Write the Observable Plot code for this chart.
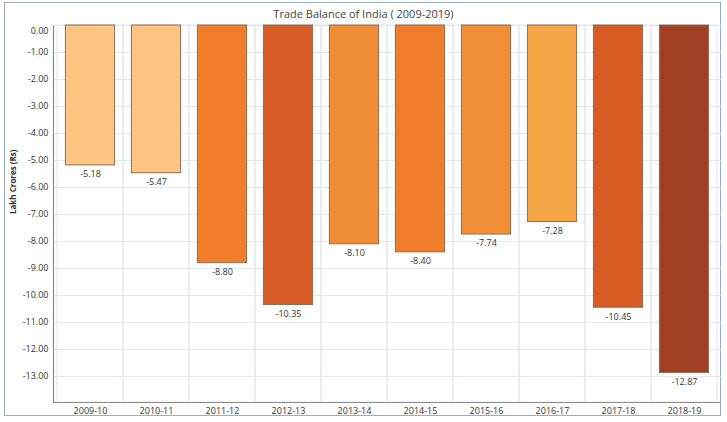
<!DOCTYPE html>
<html>
<head>
<meta charset="utf-8">
<script src="https://cdn.jsdelivr.net/npm/d3@7"></script>
<script src="https://cdn.jsdelivr.net/npm/@observablehq/plot@0.6"></script>
<style>
  html, body { margin: 0; padding: 0; background: #fff; }
  #wrap { position: relative; width: 727px; height: 422px; font-family: "Open Sans", sans-serif; }
  #frame { position: absolute; left: 4px; top: 2px; width: 715px; height: 412px; border: 1.5px solid #9aaec2; box-sizing: content-box; }
  #title { position: absolute; left: 0; top: 6px; width: 727px; text-align: center; font-size: 11px; color: #444; }
  #chart { position: absolute; left: 0; top: 0; }
</style>
</head>
<body>
<div id="wrap">
  <div id="frame"></div>
  <div id="title">Trade Balance of India ( 2009-2019)</div>
  <div id="chart"></div>
</div>
<script>
const years = ["2009-10","2010-11","2011-12","2012-13","2013-14","2014-15","2015-16","2016-17","2017-18","2018-19"];
const values = [-5.18,-5.47,-8.80,-10.35,-8.10,-8.40,-7.74,-7.28,-10.45,-12.87];
const colors = ["#fdc482","#fdc482","#f07d2a","#d65b24","#f08d35","#ef7d29","#f18f36","#f4a545","#d75b22","#a03f22"];
const yTicks = [-1,-2,-3,-4,-5,-6,-7,-8,-9,-10,-11,-12,-13];
const yMin = -13.96;

const data = years.map((y, i) => ({year: y, value: values[i], color: colors[i]}));
const fmt = d => d.toFixed(2);

const chart = Plot.plot({
  width: 727,
  height: 422,
  marginTop: 25,
  marginBottom: 20,
  marginLeft: 53,
  marginRight: 6,
  style: {fontFamily: "Open Sans, sans-serif", background: "transparent", color: "#333"},
  x: {domain: years, padding: 0},
  y: {domain: [yMin, 0]},
  color: {type: "identity"},
  marks: [
    Plot.ruleY([0, ...yTicks], {stroke: "#e1e7ee", strokeWidth: 1}),
    Plot.barY(years, {x: d => d, y1: yMin, y2: 0, fill: "none", stroke: "#e1e7ee", strokeWidth: 1}),
    Plot.barY(data, {x: "year", y: "value", fill: "color", stroke: "#86705c", strokeWidth: 1, insetLeft: 8.4, insetRight: 8.4}),
    Plot.text(data, {x: "year", y: "value", text: d => fmt(d.value), dy: 9, fontSize: 9, fill: "#333"}),
    Plot.axisY(yTicks, {tickSize: 0, tickPadding: 5, tickFormat: fmt, fontSize: 9, label: null}),
    Plot.axisY([0], {tickSize: 0, tickPadding: 5, tickFormat: fmt, fontSize: 9, label: null, dy: 6}),
    Plot.axisX({tickSize: 0, tickPadding: 5, fontSize: 9, label: null}),
    Plot.ruleY([yMin], {stroke: "#8c8c8c", strokeWidth: 1.2}),
    Plot.frame({anchor: "left", stroke: "#8c8c8c", strokeWidth: 1.2}),
    Plot.text(["Lakh Crores (Rs)"], {frameAnchor: "left", rotate: -90, dx: -40, fontSize: 8, fontWeight: "bold", fill: "#333"})
  ]
});
document.getElementById("chart").appendChild(chart);
</script>
</body>
</html>
